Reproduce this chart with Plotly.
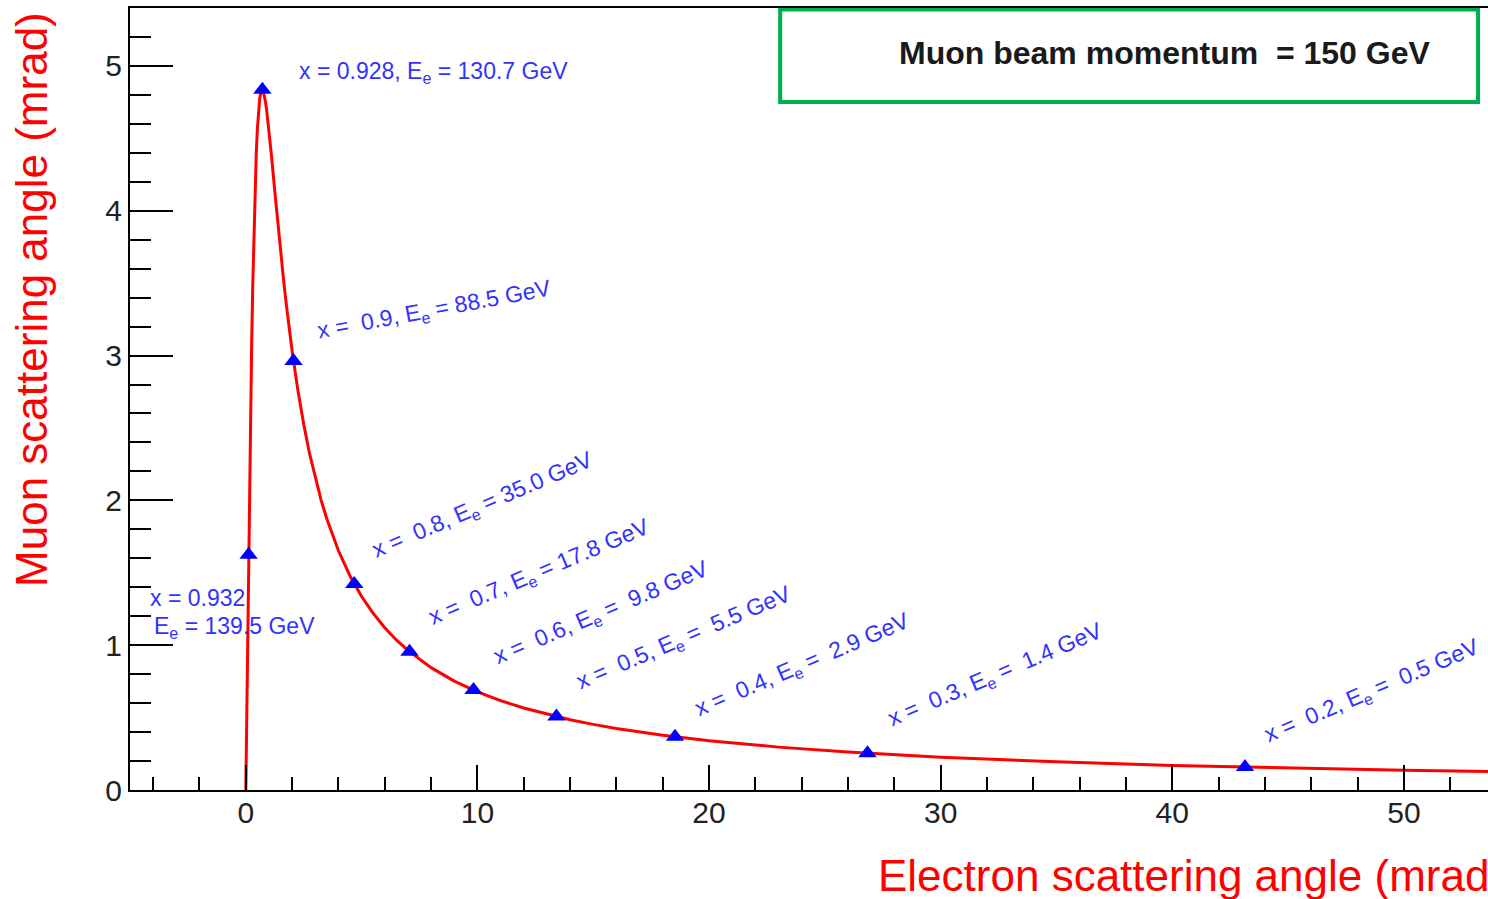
import plotly.graph_objects as go

# Elastic mu-e kinematics, 150 GeV muon beam: muon angle vs electron angle (mrad)
electron_angle = [0.0, 0.01, 0.02, 0.03, 0.05, 0.075, 0.1, 0.125, 0.15, 0.2, 0.25,
                  0.3, 0.35, 0.4, 0.45, 0.5, 0.55, 0.6, 0.65, 0.7, 0.716, 0.75, 0.8,
                  0.85, 0.9, 1.0, 1.1, 1.25, 1.375, 1.5, 1.625, 1.75, 1.875, 2.0, 2.25,
                  2.5, 2.75, 3.0, 3.25, 3.5, 4.0, 4.5, 5.0, 5.5, 6.0, 6.5, 7.0, 8.0,
                  9.0, 10.0, 11.0, 12.0, 13.0, 14.0, 15.0, 16.0, 18.0, 20.0, 23.0, 26.0,
                  30.0, 35.0, 40.0, 45.0, 50.0, 54.0]
muon_angle = [0.0, 0.137, 0.274, 0.411, 0.683, 1.018, 1.346, 1.664, 1.971, 2.542, 3.049,
              3.487, 3.855, 4.154, 4.389, 4.566, 4.692, 4.775, 4.821, 4.836, 4.836, 4.827, 4.798,
              4.752, 4.695, 4.554, 4.393, 4.137, 3.925, 3.722, 3.530, 3.351, 3.184, 3.031, 2.758,
              2.525, 2.325, 2.153, 2.002, 1.871, 1.652, 1.478, 1.336, 1.219, 1.120, 1.036, 0.964, 0.845,
              0.752, 0.678, 0.617, 0.566, 0.523, 0.485, 0.453, 0.425, 0.378, 0.340, 0.296, 0.262,
              0.227, 0.195, 0.170, 0.151, 0.136, 0.126]

# Marked kinematic points
x_values = ["0.932", "0.928", "0.9", "0.8", "0.7", "0.6", "0.5", "0.4", "0.3", "0.2"]
ee_values = ["139.5", "130.7", "88.5", "35.0", "17.8", "9.8", "5.5", "2.9", "1.4", "0.5"]
point_electron = [0.122, 0.716, 2.060, 4.683, 7.069, 9.830, 13.41, 18.53, 26.84, 43.14]
point_muon = [1.624, 4.836, 2.962, 1.423, 0.954, 0.690, 0.507, 0.367, 0.254, 0.158]

x_tick_values = [0, 10, 20, 30, 40, 50]
y_tick_values = [0, 1, 2, 3, 4, 5]

FONT = "Liberation Sans, Arial, Helvetica, sans-serif"
BLUE_TEXT = "#3232ff"
LABEL_SIZE = 23

fig = go.Figure()
fig.add_trace(go.Scatter(
    x=electron_angle, y=muon_angle, mode="lines",
    line=dict(color="#ff0000", width=3), hoverinfo="skip", showlegend=False))
fig.add_trace(go.Scatter(
    x=point_electron, y=point_muon, mode="markers",
    marker=dict(symbol="triangle-up", size=16, color="#0000ff", line=dict(width=0)),
    showlegend=False))

# label placement: (x, y, angle, anchor)
NBSP = "\u00a0"
annotations = []
label_layout = {
    "0.928": (2.21, 4.952, 0, "left"),
    "0.9": (8.13, 3.308, -10.5, "center"),
    "0.8": (10.24, 1.968, -23, "center"),
    "0.7": (12.70, 1.499, -23, "center"),
    "0.6": (15.34, 1.222, -23, "center"),
    "0.5": (18.93, 1.043, -23, "center"),
    "0.4": (24.02, 0.863, -23, "center"),
    "0.3": (32.35, 0.794, -23, "center"),
    "0.2": (48.63, 0.677, -23, "center"),
}
for xv, ee in zip(x_values, ee_values):
    if xv == "0.932":
        annotations.append(dict(x=-4.22, y=1.326, xref="x", yref="y", xanchor="left",
                                yanchor="middle", showarrow=False, text=f"x = {xv}",
                                font=dict(family=FONT, size=LABEL_SIZE, color=BLUE_TEXT)))
        annotations.append(dict(x=-4.05, y=1.119, xref="x", yref="y", xanchor="left",
                                yanchor="middle", showarrow=False,
                                text=f"E<sub>e</sub> = {ee} GeV",
                                font=dict(family=FONT, size=LABEL_SIZE, color=BLUE_TEXT)))
        continue
    ax, ay, ang, anchor = label_layout[xv]
    if ang == 0:
        txt = f"x = {xv}, E<sub>e</sub> = {ee} GeV"
    else:
        pad = NBSP if float(ee) < 10 else ""
        txt = f"x ={NBSP} {xv}, E<sub>e</sub> ={pad} {ee} GeV"
    annotations.append(dict(x=ax, y=ay, xref="x", yref="y", xanchor=anchor,
                            yanchor="middle", showarrow=False, text=txt, textangle=ang,
                            font=dict(family=FONT, size=LABEL_SIZE, color=BLUE_TEXT)))

# axis titles
annotations.append(dict(x=0, xref="paper", xshift=-98, y=3.384, yref="y",
                        xanchor="center", yanchor="middle", showarrow=False, textangle=-90,
                        text="Muon scattering angle (mrad)",
                        font=dict(family=FONT, size=44, color="#ff0000")))
annotations.append(dict(x=27.2, xref="x", y=0, yref="paper", yshift=-85,
                        xanchor="left", yanchor="middle", showarrow=False,
                        text="Electron scattering angle (mrad)",
                        font=dict(family=FONT, size=44, color="#ff0000")))
# beam momentum box text
annotations.append(dict(x=39.65, y=5.09, xref="x", yref="y", xanchor="center",
                        yanchor="middle", showarrow=False,
                        text=f"<b>Muon beam momentum {NBSP}= 150 GeV</b>",
                        font=dict(family=FONT, size=32, color="#1a1a1a")))

fig.update_layout(
    width=1488, height=899,
    margin=dict(l=130, r=0, t=8, b=109, pad=0),
    paper_bgcolor="white", plot_bgcolor="white",
    annotations=annotations,
    shapes=[dict(type="rect", xref="x", yref="y", x0=23.07, x1=53.20, y0=4.751, y1=5.39,
                 line=dict(color="#00b050", width=4), fillcolor="rgba(0,0,0,0)")],
    xaxis=dict(range=[-5, 53.63], showgrid=False, zeroline=False,
               showline=True, linecolor="black", linewidth=2, mirror=True,
               ticks="inside", ticklen=25, tickwidth=2, tickcolor="black",
               tickmode="array", tickvals=x_tick_values, ticklabelstandoff=-5,
               minor=dict(dtick=2, tick0=0, ticks="inside", ticklen=13, tickwidth=2,
                          tickcolor="black", showgrid=False),
               tickfont=dict(family=FONT, size=30, color="#222222")),
    yaxis=dict(range=[0, 5.4], showgrid=False, zeroline=False,
               showline=True, linecolor="black", linewidth=2, mirror=False,
               ticks="inside", ticklen=43, tickwidth=2, tickcolor="black",
               tickmode="array", tickvals=y_tick_values,
               minor=dict(dtick=0.2, tick0=0, ticks="inside", ticklen=21, tickwidth=2,
                          tickcolor="black", showgrid=False),
               tickfont=dict(family=FONT, size=30, color="#222222")),
)

fig.write_html("out.html")
